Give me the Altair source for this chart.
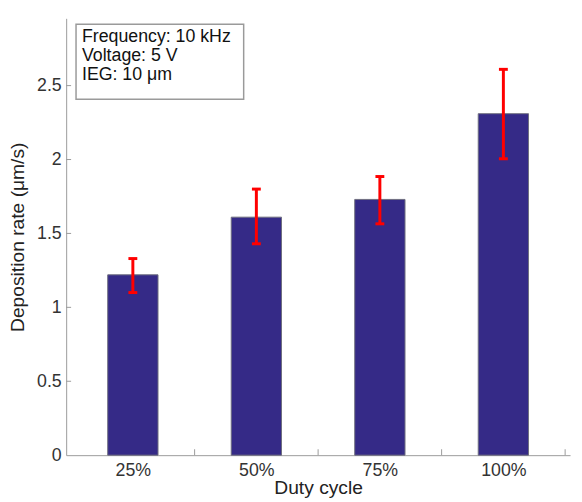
import altair as alt
import pandas as pd

# Data
duty = ["25%", "50%", "75%", "100%"]
rate = [1.22, 1.61, 1.73, 2.31]
err_low = [1.10, 1.43, 1.565, 2.005]
err_high = [1.33, 1.80, 1.885, 2.61]

y_ticks = [0, 0.5, 1, 1.5, 2, 2.5]
x_bounds = [1, 2, 3, 4]
note_lines = ["Frequency: 10 kHz", "Voltage: 5 V", "IEG: 10 \u03bcm"]

FONT = "Liberation Sans"
AXIS_GRAY = "#9a9a9a"
BAR_COLOR = "#352a87"

df = pd.DataFrame({
    "pos": [i + 0.5 for i in range(len(duty))],
    "duty": duty,
    "rate": rate,
    "lo": err_low,
    "hi": err_high,
})

label_expr = " : ".join(
    [f"datum.value == {i + 0.5} ? '{d}'" for i, d in enumerate(duty)]
) + " : ''"

x_scale = alt.Scale(domain=[0, 4], nice=False, zero=False)
y_scale = alt.Scale(domain=[0, 2.955], nice=False)

x_enc = alt.X(
    "pos:Q",
    scale=x_scale,
    axis=alt.Axis(
        values=[0.5, 1.5, 2.5, 3.5],
        labelExpr=label_expr,
        ticks=False,
        grid=False,
        title="Duty cycle",
        labelFontSize=18,
        titleFontSize=19.5,
        labelPadding=7,
        titlePadding=-1,
    ),
)
y_enc = alt.Y(
    "rate:Q",
    scale=y_scale,
    axis=alt.Axis(
        values=y_ticks,
        format=".1~f",
        ticks=False,
        grid=False,
        title="Deposition rate (\u03bcm/s)",
        labelFontSize=18,
        titleFontSize=19.5,
        labelPadding=5,
        titlePadding=9,
        labelFlush=False,
    ),
)

bars = alt.Chart(df).mark_bar(
    size=51, color=BAR_COLOR, stroke="#6f6f7f", strokeWidth=1
).encode(x=x_enc, y=y_enc)

err = alt.Chart(df).mark_rule(color="#ff0000", strokeWidth=3).encode(
    x="pos:Q", y="lo:Q", y2="hi:Q"
)
cap_hi = alt.Chart(df).mark_rule(
    color="#ff0000", strokeWidth=3, xOffset=-4.5, x2Offset=4.5
).encode(x="pos:Q", x2="pos:Q", y="hi:Q")
cap_lo = alt.Chart(df).mark_rule(
    color="#ff0000", strokeWidth=3, xOffset=-4.5, x2Offset=4.5
).encode(x="pos:Q", x2="pos:Q", y="lo:Q")

ytick_df = pd.DataFrame({"v": y_ticks[1:]})
yticks = alt.Chart(ytick_df).mark_rule(color=AXIS_GRAY, strokeWidth=1).encode(
    y="v:Q", x=alt.value(0), x2=alt.value(5)
)
xtick_df = pd.DataFrame({"b": x_bounds})
xticks = alt.Chart(xtick_df).mark_rule(color=AXIS_GRAY, strokeWidth=1).encode(
    x="b:Q", y=alt.value(443), y2=alt.value(437)
)

note_box = alt.Chart(pd.DataFrame({"k": [0]})).mark_rect(
    fill="white", stroke=AXIS_GRAY, strokeWidth=1.5
).encode(
    x=alt.value(10), x2=alt.value(180), y=alt.value(6), y2=alt.value(82)
)
note_df = pd.DataFrame({"t": note_lines, "i": list(range(len(note_lines)))})
note_text = alt.Chart(note_df).mark_text(
    align="left", baseline="alphabetic", font=FONT, fontSize=18, color="#111111"
).transform_calculate(
    yy="24 + datum.i * 19.5"
).encode(
    x=alt.value(16),
    y=alt.Y("yy:Q", scale=None),
    text="t:N",
)

chart = alt.layer(
    bars, err, cap_hi, cap_lo, yticks, xticks, note_box, note_text
).properties(
    width=511,
    height=443,
    autosize=alt.AutoSizeParams(type="none"),
    padding={"left": 59, "top": 7, "right": 4, "bottom": 44},
).configure_view(
    stroke=None
).configure_axis(
    domainColor=AXIS_GRAY,
    domainWidth=1,
    labelColor="#333333",
    titleColor="#222222",
    labelFont=FONT,
    titleFont=FONT,
    titleFontWeight="normal",
)

chart.save("out.html", embed_options={"renderer": "svg", "actions": False})
